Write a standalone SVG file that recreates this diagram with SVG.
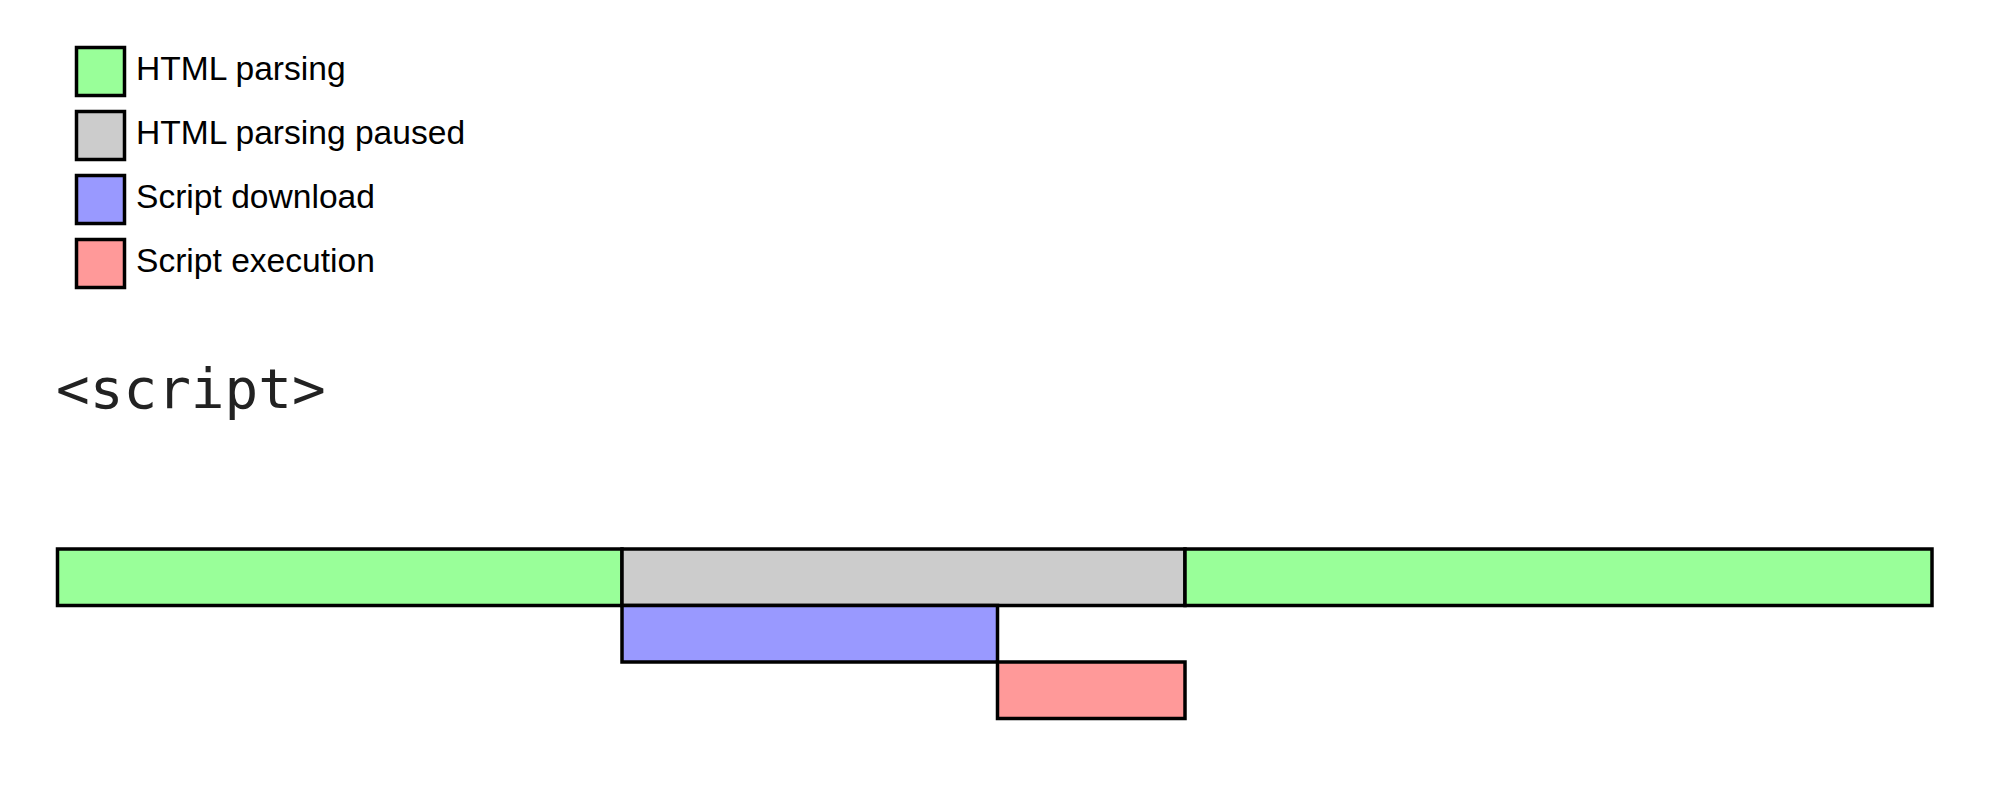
<svg xmlns="http://www.w3.org/2000/svg" width="2000" height="797" viewBox="0 0 2000 797">
<style>
.box{stroke:#000;stroke-width:3.5}
.g{fill:#99ff99}.p{fill:#cccccc}.b{fill:#9999ff}.r{fill:#ff9999}
.lt{font-family:"Liberation Sans",Arial,sans-serif;font-size:33.6px;fill:#000}
.code{font-family:"DejaVu Sans Mono",monospace;font-size:56px;fill:#222}
</style>
<rect width="2000" height="797" fill="#fff"/>
<g id="legend">
<g id="legend-parsing"><rect class="box g" x="76.5" y="47.5" width="48" height="48"/><text class="lt" x="136" y="80">HTML parsing</text></g>
<g id="legend-paused"><rect class="box p" x="76.5" y="111.5" width="48" height="48"/><text class="lt" x="136" y="144">HTML parsing paused</text></g>
<g id="legend-download"><rect class="box b" x="76.5" y="175.5" width="48" height="48"/><text class="lt" x="136" y="208">Script download</text></g>
<g id="legend-execution"><rect class="box r" x="76.5" y="239.5" width="48" height="48"/><text class="lt" x="136" y="272">Script execution</text></g>
</g>
<g id="title"><text class="code" x="56" y="408">&lt;script&gt;</text></g>
<g id="timeline">
<g id="parse1"><rect class="box g" x="57.5" y="549" width="564.5" height="56.5"/></g>
<g id="paused"><rect class="box p" x="622" y="549" width="563" height="56.5"/></g>
<g id="parse2"><rect class="box g" x="1185" y="549" width="747" height="56.5"/></g>
<g id="download"><rect class="box b" x="622" y="605.5" width="375.5" height="56.5"/></g>
<g id="execution"><rect class="box r" x="997.5" y="662" width="187.5" height="56.5"/></g>
</g>
<g id="connectors"/>
</svg>
